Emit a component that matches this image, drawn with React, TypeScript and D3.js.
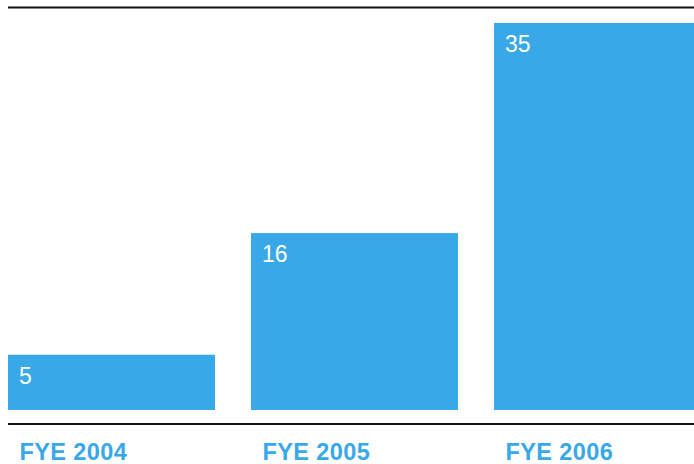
import React from 'react';
import * as d3 from 'd3';

const categories = ['FYE 2004', 'FYE 2005', 'FYE 2006'];
const values = [5, 16, 35];

const W = 694;
const H = 464;
const blue = '#38a8e8';
const font = '"Liberation Sans", Arial, Helvetica, sans-serif';

export default function App() {
  const x = d3.scaleBand<string>()
    .domain(categories)
    .range([8, 701])
    .paddingInner(36 / 243)
    .paddingOuter(0);

  const y = d3.scaleLinear()
    .domain([0, 35])
    .range([410, 23]);

  return (
    <svg width={W} height={H} style={{ position: 'absolute', left: 0, top: 0, display: 'block' }}>
      <line x1={8} x2={W} y1={7.5} y2={7.5} stroke="#111" strokeWidth={2} />
      {categories.map((c, i) => (
        <g key={c}>
          <rect
            x={x(c)}
            y={y(values[i])}
            width={x.bandwidth()}
            height={y(0) - y(values[i])}
            fill={blue}
          />
          <text
            x={(x(c) as number) + 11}
            y={y(values[i]) + 29}
            fill="#fff"
            fontFamily={font}
            fontSize={23}
          >
            {values[i]}
          </text>
          <text
            x={(x(c) as number) + 11.5}
            y={460}
            fill={blue}
            fontFamily={font}
            fontSize={23.5}
            fontWeight="bold"
            letterSpacing={0.4}
          >
            {c}
          </text>
        </g>
      ))}
      <line x1={8} x2={W} y1={424} y2={424} stroke="#111" strokeWidth={2} />
    </svg>
  );
}
